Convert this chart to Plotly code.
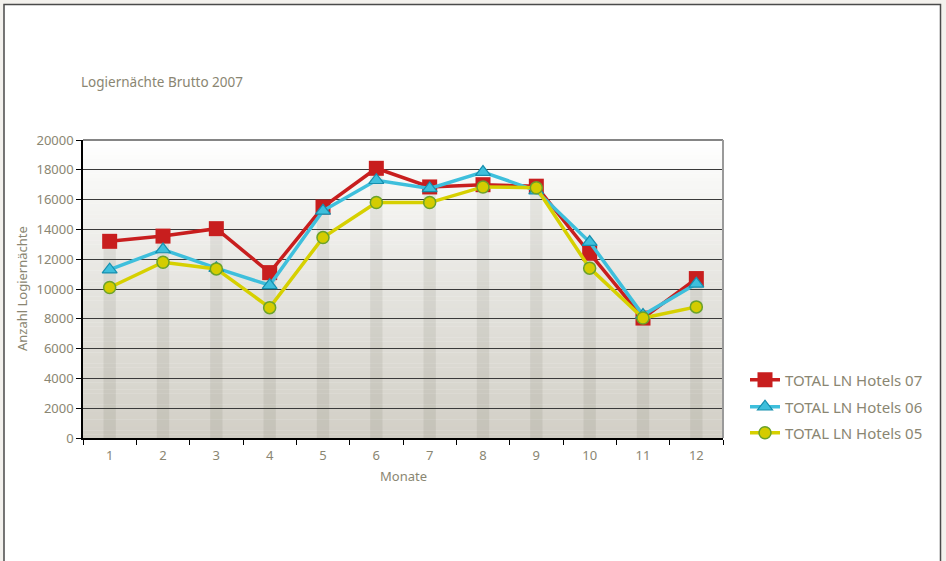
import plotly.graph_objects as go

months = ["1", "2", "3", "4", "5", "6", "7", "8", "9", "10", "11", "12"]
hotels_07 = [13200, 13550, 14050, 11100, 15500, 18100, 16850, 17000, 16900, 12400, 8050, 10700]
hotels_06 = [11300, 12650, 11400, 10250, 15250, 17300, 16750, 17850, 16600, 13150, 8250, 10350]
hotels_05 = [10100, 11800, 11350, 8750, 13450, 15800, 15800, 16850, 16800, 11400, 8050, 8800]
y_ticks = [0, 2000, 4000, 6000, 8000, 10000, 12000, 14000, 16000, 18000, 20000]

TXT = "#8a8672"
FONT = "Noto Sans"

W, H = 946, 561
L, R, T, B = 83, 723, 140, 438
PW, PH = R - L, B - T

def px_x(x):
    return (x - L) / PW

def px_y(y):
    return (B - y) / PH

fig = go.Figure()

# decorative columns behind the lines
fig.add_trace(go.Bar(
    x=months, y=hotels_07, width=0.23,
    marker=dict(color="rgba(70,65,40,0.09)", line=dict(width=0)),
    showlegend=False, hoverinfo="skip"))

fig.add_trace(go.Scatter(
    x=months, y=hotels_07, mode="lines+markers", name="TOTAL LN Hotels 07",
    line=dict(color="#c81e1e", width=3.5),
    marker=dict(symbol="square", size=15, color="#c81e1e", line=dict(width=0)),
    legend="legend"))
fig.add_trace(go.Scatter(
    x=months, y=hotels_06, mode="lines+markers", name="TOTAL LN Hotels 06",
    line=dict(color="#3ebfdc", width=3.5),
    marker=dict(symbol="triangle-up", size=13, color="#3ebfdc", line=dict(width=1.2, color="#168fae")),
    legend="legend2"))
fig.add_trace(go.Scatter(
    x=months, y=hotels_05, mode="lines+markers", name="TOTAL LN Hotels 05",
    line=dict(color="#d6d000", width=3.5),
    marker=dict(symbol="circle", size=12, color="#d4cc00", line=dict(width=1.5, color="#6aa22a")),
    legend="legend3"))

shapes = []
# outer frame
shapes.append(dict(type="rect", xref="paper", yref="paper",
                   x0=px_x(4), x1=px_x(940.5), y0=px_y(590), y1=px_y(4.5),
                   fillcolor="white", line=dict(color="#4a4a4a", width=1.5), layer="below"))
# gradient background of plot area
stops = [(0.0, (255, 255, 255)), (0.15, (247, 247, 245)), (0.5, (229, 228, 223)), (1.0, (210, 207, 198))]
def col(f):
    for i in range(len(stops) - 1):
        a, ca = stops[i]
        b, cb = stops[i + 1]
        if a <= f <= b:
            t = (f - a) / (b - a)
            return "rgb(%d,%d,%d)" % tuple(round(ca[k] + (cb[k] - ca[k]) * t) for k in range(3))
    return "rgb(210,207,198)"
N = 80
for i in range(N):
    f0 = i / N
    shapes.append(dict(type="rect", xref="paper", yref="paper",
                       x0=0, x1=1, y0=1 - (i + 1) / N - 0.001, y1=1 - f0,
                       fillcolor=col((i + 0.5) / N), line=dict(width=0), layer="below"))
# grey top and right plot borders
shapes.append(dict(type="line", xref="paper", yref="paper", x0=0, x1=1, y0=1, y1=1,
                   line=dict(color="#858585", width=2), layer="above"))
shapes.append(dict(type="line", xref="paper", yref="paper", x0=1, x1=1, y0=0, y1=1,
                   line=dict(color="#9a9a9a", width=2), layer="above"))

annotations = [
    dict(text="Logiernächte Brutto 2007", xref="paper", yref="paper",
         x=px_x(79), y=px_y(82), xanchor="left", yanchor="middle", showarrow=False,
         font=dict(family=FONT, size=13.5, color=TXT)),
    dict(text="Anzahl Logiernächte", xref="paper", yref="paper",
         x=px_x(22), y=0.5, xanchor="center", yanchor="middle", textangle=-90, showarrow=False,
         font=dict(family=FONT, size=13, color=TXT)),
    dict(text="Monate", xref="paper", yref="paper",
         x=0.5, y=px_y(476), xanchor="center", yanchor="middle", showarrow=False,
         font=dict(family=FONT, size=13, color=TXT)),
]

leg_common = dict(xanchor="left", yanchor="middle", bgcolor="rgba(0,0,0,0)", borderwidth=0,
                  font=dict(family=FONT, size=15, color=TXT))

fig.update_layout(
    width=W, height=H,
    margin=dict(l=L, r=W - R, t=T, b=H - B, pad=0),
    paper_bgcolor="#f3f1ed",
    plot_bgcolor="rgba(0,0,0,0)",
    shapes=shapes,
    annotations=annotations,
    showlegend=True,
    legend=dict(x=px_x(745), y=px_y(380), **leg_common),
    legend2=dict(x=px_x(745), y=px_y(407), **leg_common),
    legend3=dict(x=px_x(745), y=px_y(433), **leg_common),
    xaxis=dict(type="category", range=[-0.5, 11.5], tickson="boundaries",
               ticks="outside", ticklen=5, tickcolor="#000", tickwidth=1,
               showline=True, linecolor="#000", linewidth=1.5, ticklabelstandoff=5,
               showgrid=False, tickfont=dict(family=FONT, size=13, color=TXT)),
    yaxis=dict(range=[0, 20000], tickvals=y_ticks, ticktext=[str(v) for v in y_ticks],
               ticks="outside", ticklen=5, tickcolor="#000", tickwidth=1,
               showline=True, linecolor="#000", linewidth=1.5,
               showgrid=True, gridcolor="#3a3a3a", gridwidth=1, zeroline=False,
               tickfont=dict(family=FONT, size=13, color=TXT)),
    bargap=0.77,
)

fig.write_html("out.html")
